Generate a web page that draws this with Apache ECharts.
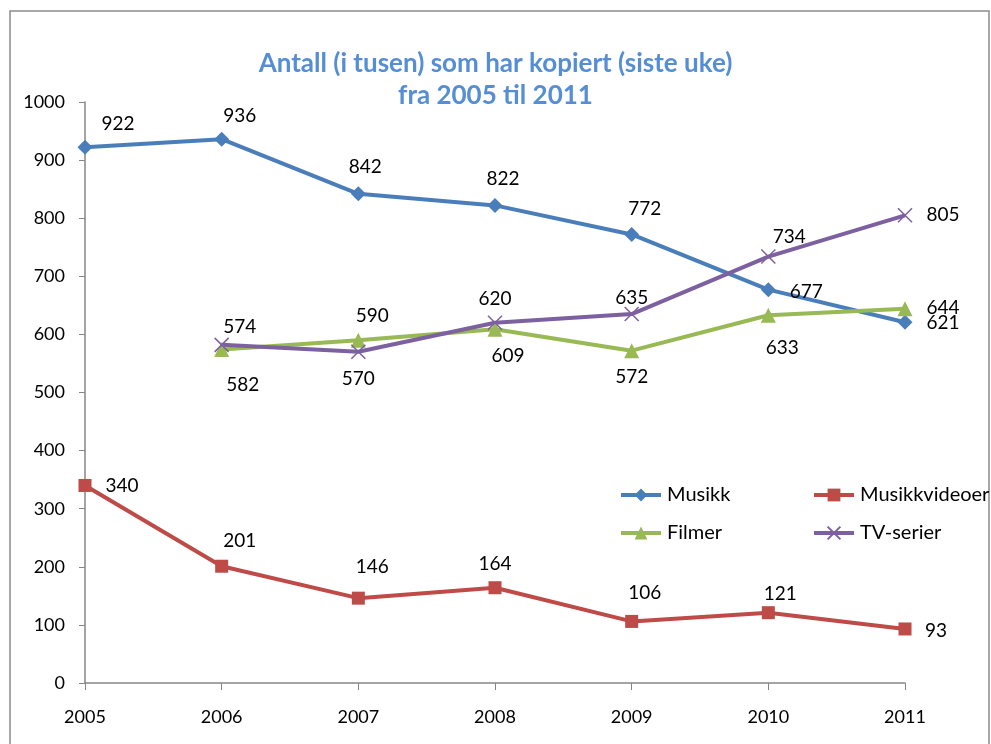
<!DOCTYPE html>
<html>
<head>
<meta charset="utf-8">
<script src="https://cdn.jsdelivr.net/npm/echarts@6/dist/echarts.min.js"></script>
<style>
  html, body { margin: 0; padding: 0; background: #fff; }
  #chart { width: 991px; height: 744px; }
</style>
</head>
<body>
<div id="chart"></div>
<script>
// data
let years = ["2005", "2006", "2007", "2008", "2009", "2010", "2011"];
let musikk = [922, 936, 842, 822, 772, 677, 621];
let musikkvideoer = [340, 201, 146, 164, 106, 121, 93];
let filmer = [null, 574, 590, 609, 572, 633, 644];
let tvSerier = [null, 582, 570, 620, 635, 734, 805];
let yTicks = [0, 100, 200, 300, 400, 500, 600, 700, 800, 900, 1000];

// where each data label sits relative to its point (style only)
let musikkLbl = [[33, -23], [18, -23], [7, -27], [8, -27], [13, -26], [38, 2], [38, 1]];
let videoLbl = [[37, 0], [18, -25], [14, -31], [0, -24], [13, -29], [12, -19], [31, 2]];
let filmerLbl = [null, [18, -23], [14, -24], [13, 27], [0, 26], [14, 33], [38, -1]];
let tvLbl = [null, [21, 40], [0, 27], [0, -24], [0, -16], [21, -20], [38, 0]];

const FONT = "Lato, 'Liberation Sans', sans-serif";

function withLabels(values, offsets) {
    return values.map((v, i) => {
        if (v === null) return null;
        return {
            value: v,
            label: { show: true, position: "inside", offset: offsets[i] }
        };
    });
}

function makeSeries(name, values, offsets, color, symbol, size, extra) {
    let s = {
        name: name,
        type: "line",
        data: withLabels(values, offsets),
        symbol: symbol,
        symbolSize: size,
        connectNulls: false,
        lineStyle: { color: color, width: 4 },
        itemStyle: { color: color },
        label: { color: "#000", fontSize: 19, fontFamily: FONT },
        emphasis: { disabled: true },
        z: 3
    };
    return Object.assign(s, extra || {});
}

let series = [
    makeSeries("Musikk", musikk, musikkLbl, "#4A7EBB", "diamond", 15),
    makeSeries("Musikkvideoer", musikkvideoer, videoLbl, "#BE4B48", "rect", 13),
    makeSeries("Filmer", filmer, filmerLbl, "#98B954", "triangle", 15),
    makeSeries("TV-serier", tvSerier, tvLbl, "#7D60A0",
        "path://M0,0 L10,10 M10,0 L0,10", 14,
        { itemStyle: { color: "#7D60A0", borderColor: "#7D60A0", borderWidth: 1.5 } })
];

// one legend per entry so the two columns line up like the original
function legendAt(name, left, top) {
    return {
        data: [name],
        left: left,
        top: top,
        itemWidth: 40,
        itemHeight: 16,
        itemGap: 6,
        lineStyle: { width: 4 },
        textStyle: { fontSize: 20, fontFamily: FONT, color: "#000", padding: [0, 0, 0, 1] },
        selectedMode: false
    };
}

let option = {
    animation: false,
    backgroundColor: "#fff",
    title: {
        text: "Antall (i tusen) som har kopiert (siste uke)\nfra 2005 til 2011",
        left: "center",
        top: 43,
        textStyle: {
            color: "#558ED5",
            fontSize: 26,
            fontWeight: "bold",
            fontFamily: FONT,
            lineHeight: 32
        }
    },
    legend: [
        legendAt("Musikk", 614, 480),
        legendAt("Musikkvideoer", 807, 480),
        legendAt("Filmer", 614, 518),
        legendAt("TV-serier", 807, 518)
    ],
    grid: { left: 85, right: 86, top: 102, bottom: 61, containLabel: false },
    xAxis: {
        type: "category",
        data: years,
        boundaryGap: false,
        axisLine: { lineStyle: { color: "#868686", width: 1.5 } },
        axisTick: { show: true, alignWithLabel: true, length: 7, lineStyle: { color: "#868686" } },
        axisLabel: { color: "#000", fontSize: 18, fontFamily: FONT, margin: 25 },
        splitLine: { show: false }
    },
    yAxis: {
        type: "value",
        min: yTicks[0],
        max: yTicks[yTicks.length - 1],
        interval: 100,
        axisLine: { show: true, lineStyle: { color: "#868686", width: 1.5 } },
        axisTick: { show: true, length: 6, lineStyle: { color: "#868686" } },
        axisLabel: {
            color: "#000", fontSize: 18, fontFamily: FONT, margin: 20,
            formatter: v => String(v)
        },
        splitLine: { show: false }
    },
    graphic: [{
        type: "rect",
        shape: { x: 10, y: 11, width: 979, height: 760 },
        style: { fill: null, stroke: "#8C8C8C", lineWidth: 1.5 },
        silent: true,
        z: -1
    }],
    series: series
};

let chart = echarts.init(document.getElementById("chart"));
chart.setOption(option);
</script>
</body>
</html>
